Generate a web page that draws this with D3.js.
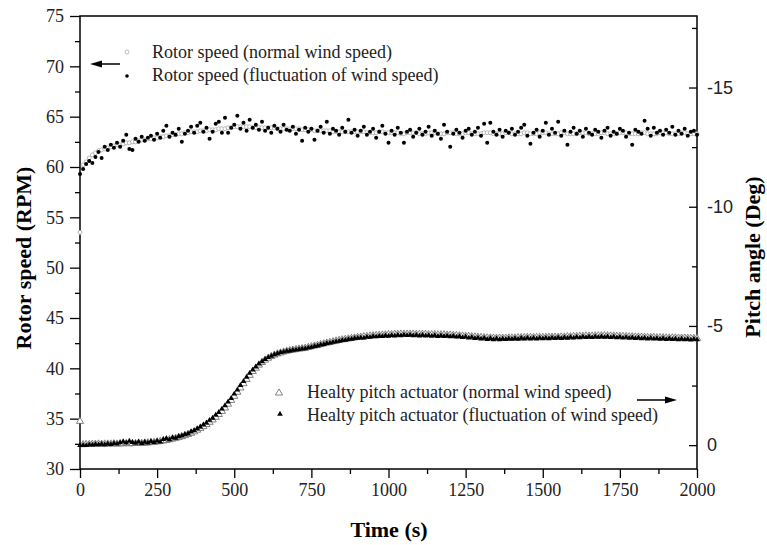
<!DOCTYPE html>
<html>
<head>
<meta charset="utf-8">
<script src="https://cdn.jsdelivr.net/npm/d3@7"></script>
<style>
    body { margin: 0; background: #fff; }
    #chart { width: 767px; height: 545px; }
    #chart svg { display: block; overflow: visible; }
    .serif { font-family: "Liberation Serif", "Times New Roman", serif; }
    .sans { font-family: "Liberation Sans", Arial, sans-serif; }
</style>
</head>
<body>
<div id="chart"></div>
<script>
// sampling step of all four recorded series (s)
const timeStep = 10;

const rotorNormal = [53.5,
    60.2, 60.5, 60.9, 61.2, 61.4, 61.6, 61.7, 61.8, 61.9, 62.0,
    62.1, 62.2, 62.2, 62.3, 62.4, 62.4, 62.5, 62.5, 62.6, 62.7,
    62.7, 62.8, 62.8, 62.9, 62.9, 63.0, 63.0, 63.1, 63.1, 63.2,
    63.2, 63.3, 63.3, 63.4, 63.4, 63.5, 63.5, 63.5, 63.6, 63.6,
    63.6, 63.7, 63.7, 63.7, 63.8, 63.8, 63.8, 63.9, 63.9, 64.0,
    64.0, 64.0, 64.0, 64.0, 64.0, 63.9, 63.9, 63.9, 63.9, 63.9,
    63.9, 63.9, 63.9, 63.8, 63.8, 63.8, 63.8, 63.8, 63.8, 63.8,
    63.8, 63.7, 63.7, 63.7, 63.7, 63.6, 63.6, 63.6, 63.6, 63.6,
    63.6, 63.5, 63.5, 63.5, 63.5, 63.5, 63.5, 63.5, 63.5, 63.5,
    63.5, 63.5, 63.4, 63.4, 63.4, 63.4, 63.5, 63.5, 63.4, 63.4,
    63.4, 63.4, 63.4, 63.3, 63.3, 63.4, 63.4, 63.4, 63.4, 63.3,
    63.3, 63.3, 63.4, 63.4, 63.4, 63.3, 63.3, 63.3, 63.4, 63.4,
    63.4, 63.3, 63.3, 63.3, 63.4, 63.4, 63.3, 63.3, 63.3, 63.3,
    63.4, 63.4, 63.4, 63.3, 63.3, 63.3, 63.3, 63.4, 63.4, 63.3,
    63.3, 63.3, 63.3, 63.4, 63.4, 63.3, 63.3, 63.3, 63.4, 63.4,
    63.4, 63.3, 63.3, 63.3, 63.3, 63.4, 63.4, 63.3, 63.3, 63.3,
    63.3, 63.4, 63.4, 63.4, 63.3, 63.3, 63.3, 63.3, 63.4, 63.4,
    63.3, 63.3, 63.3, 63.3, 63.4, 63.4, 63.4, 63.3, 63.3, 63.3,
    63.3, 63.4, 63.4, 63.3, 63.3, 63.3, 63.3, 63.4, 63.4, 63.4,
    63.3, 63.3, 63.3, 63.3, 63.4, 63.4, 63.3, 63.3, 63.3, 63.3];

const rotorFluct = [59.3,
    59.8, 60.3, 60.6, 60.4, 61.0, 61.5, 60.9, 62.0, 61.7, 62.2,
    61.9, 62.4, 62.0, 62.6, 63.2, 61.8, 61.7, 62.8, 62.5, 63.0,
    62.6, 62.9, 63.1, 62.7, 63.3, 62.9, 63.6, 64.1, 63.0, 63.4,
    63.2, 63.8, 62.5, 63.3, 63.6, 64.0, 63.4, 64.1, 64.4, 63.5,
    63.9, 62.8, 63.5, 64.3, 64.5, 63.4, 64.9, 63.4, 63.9, 64.2,
    65.1, 63.8, 64.4, 63.6, 64.7, 63.9, 64.2, 63.7, 64.5, 63.6,
    63.9, 63.4, 64.1, 63.8, 63.5, 64.2, 63.7, 63.6, 64.0, 63.3,
    63.7, 62.6, 63.9, 63.5, 63.8, 62.7, 63.6, 64.0, 63.4, 64.5,
    63.3, 63.8, 63.6, 63.2, 63.9, 63.5, 64.7, 63.4, 63.7, 63.1,
    63.6, 64.0, 63.2, 63.5, 63.8, 62.9, 63.5, 64.1, 63.3, 62.4,
    63.6, 63.2, 63.9, 63.4, 62.4, 63.5, 63.7, 63.0, 63.4, 63.8,
    63.2, 63.5, 64.0, 63.1, 63.6, 63.3, 62.8, 64.2, 63.5, 62.0,
    63.3, 63.7, 63.4, 62.9, 63.6, 63.8, 63.2, 63.5, 63.9, 63.1,
    64.3, 62.4, 64.4, 63.5, 63.2, 63.7, 63.0, 63.6, 63.4, 63.8,
    63.2, 63.5, 63.9, 64.2, 63.1, 62.3, 63.4, 63.7, 63.0, 63.6,
    64.4, 63.2, 63.8, 63.4, 64.5, 63.1, 63.6, 62.2, 63.5, 63.9,
    63.3, 63.6, 63.0, 63.8, 63.4, 63.2, 63.7, 63.5, 62.9, 63.6,
    63.9, 63.1, 63.5, 63.3, 63.8, 63.6, 63.0, 63.4, 62.2, 63.7,
    63.5, 63.3, 64.6, 63.8, 63.1, 63.9, 63.4, 63.6, 63.2, 63.7,
    63.4, 64.0, 63.2, 63.6, 63.3, 63.8, 63.1, 63.5, 63.6, 63.2];

const pitchNormal = [-1.0,
    -0.02, -0.03, -0.03, -0.04, -0.04, -0.05, -0.04, -0.05, -0.05, -0.05,
    -0.06, -0.05, -0.06, -0.06, -0.07, -0.06, -0.07, -0.07, -0.08, -0.08,
    -0.09, -0.10, -0.11, -0.12, -0.14, -0.16, -0.18, -0.20, -0.23, -0.26,
    -0.29, -0.32, -0.36, -0.40, -0.45, -0.50, -0.56, -0.63, -0.70, -0.78,
    -0.87, -0.96, -1.06, -1.17, -1.29, -1.42, -1.56, -1.72, -1.88, -2.05,
    -2.22, -2.40, -2.58, -2.76, -2.93, -3.09, -3.23, -3.36, -3.47, -3.57,
    -3.65, -3.72, -3.78, -3.83, -3.87, -3.91, -3.94, -3.97, -3.99, -4.01,
    -4.03, -4.05, -4.07, -4.10, -4.13, -4.16, -4.19, -4.22, -4.25, -4.28,
    -4.31, -4.34, -4.37, -4.40, -4.42, -4.44, -4.46, -4.48, -4.50, -4.52,
    -4.53, -4.55, -4.56, -4.58, -4.59, -4.60, -4.61, -4.62, -4.63, -4.64,
    -4.64, -4.65, -4.65, -4.66, -4.66, -4.66, -4.66, -4.66, -4.65, -4.65,
    -4.65, -4.65, -4.64, -4.64, -4.64, -4.63, -4.63, -4.63, -4.62, -4.62,
    -4.61, -4.60, -4.59, -4.58, -4.57, -4.56, -4.55, -4.54, -4.53, -4.52,
    -4.51, -4.50, -4.50, -4.49, -4.49, -4.49, -4.49, -4.49, -4.50, -4.50,
    -4.50, -4.51, -4.51, -4.51, -4.52, -4.52, -4.52, -4.52, -4.52, -4.52,
    -4.52, -4.52, -4.53, -4.53, -4.53, -4.54, -4.54, -4.55, -4.55, -4.56,
    -4.56, -4.57, -4.57, -4.58, -4.58, -4.58, -4.59, -4.59, -4.59, -4.59,
    -4.59, -4.58, -4.58, -4.57, -4.57, -4.56, -4.56, -4.55, -4.55, -4.54,
    -4.54, -4.53, -4.53, -4.52, -4.52, -4.52, -4.51, -4.51, -4.51, -4.50,
    -4.50, -4.50, -4.50, -4.49, -4.49, -4.49, -4.49, -4.48, -4.48, -4.48];

const pitchFluct = [-0.03,
    -0.04, -0.03, -0.06, -0.05, -0.08, -0.06, -0.09, -0.07, -0.10, -0.08,
    -0.12, -0.10, -0.15, -0.19, -0.14, -0.21, -0.16, -0.13, -0.18, -0.12,
    -0.17, -0.14, -0.20, -0.16, -0.22, -0.18, -0.29, -0.33, -0.27, -0.36,
    -0.34, -0.41, -0.44, -0.50, -0.53, -0.61, -0.66, -0.74, -0.81, -0.90,
    -0.98, -1.09, -1.18, -1.31, -1.42, -1.56, -1.70, -1.86, -2.01, -2.19,
    -2.36, -2.55, -2.72, -2.90, -3.06, -3.20, -3.33, -3.45, -3.55, -3.64,
    -3.72, -3.78, -3.84, -3.88, -3.93, -3.95, -3.99, -4.00, -4.03, -4.04,
    -4.06, -4.08, -4.09, -4.13, -4.15, -4.19, -4.21, -4.25, -4.27, -4.31,
    -4.33, -4.36, -4.39, -4.41, -4.44, -4.45, -4.48, -4.49, -4.52, -4.53,
    -4.55, -4.54, -4.58, -4.57, -4.61, -4.59, -4.62, -4.61, -4.64, -4.62,
    -4.65, -4.63, -4.66, -4.64, -4.67, -4.65, -4.67, -4.64, -4.66, -4.63,
    -4.66, -4.63, -4.65, -4.62, -4.65, -4.61, -4.64, -4.61, -4.63, -4.60,
    -4.62, -4.58, -4.61, -4.56, -4.59, -4.54, -4.57, -4.52, -4.55, -4.50,
    -4.53, -4.48, -4.52, -4.47, -4.51, -4.47, -4.50, -4.48, -4.51, -4.49,
    -4.52, -4.49, -4.53, -4.50, -4.54, -4.50, -4.53, -4.50, -4.54, -4.51,
    -4.54, -4.51, -4.55, -4.52, -4.56, -4.52, -4.56, -4.53, -4.57, -4.54,
    -4.58, -4.55, -4.59, -4.56, -4.60, -4.56, -4.60, -4.57, -4.60, -4.57,
    -4.60, -4.56, -4.59, -4.55, -4.58, -4.54, -4.57, -4.53, -4.56, -4.52,
    -4.55, -4.51, -4.54, -4.50, -4.53, -4.50, -4.52, -4.49, -4.52, -4.48,
    -4.51, -4.48, -4.50, -4.47, -4.50, -4.47, -4.49, -4.46, -4.49, -4.47];

const timeTicks = [0, 250, 500, 750, 1000, 1250, 1500, 1750, 2000];
const rotorTicks = [30, 35, 40, 45, 50, 55, 60, 65, 70, 75];
const pitchTicks = [0, -5, -10, -15];

const rotorLegend = ["Rotor speed (normal wind speed)", "Rotor speed (fluctuation of wind speed)"];
const pitchLegend = ["Healty pitch actuator (normal wind speed)", "Healty pitch actuator (fluctuation of wind speed)"];

const toPoints = (arr) => arr.map((v, i) => ({t: i * timeStep, v: v}));

const width = 767, height = 545;
const margin = {top: 16, right: 70, bottom: 76, left: 80};
const innerWidth = width - margin.left - margin.right,
    innerHeight = height - margin.top - margin.bottom;

const svg = d3.select("#chart")
    .append("svg")
    .attr("width", width)
    .attr("height", height);

const g = svg.append("g")
    .attr("transform", "translate(" + margin.left + "," + margin.top + ")");

const x = d3.scaleLinear().domain([0, 2000]).range([0, innerWidth]);
const yRotor = d3.scaleLinear().domain([30, 75]).range([innerHeight, 0]);
const yPitch = d3.scaleLinear().domain([1, -18]).range([innerHeight, 0]);

// ---- axes ----
const styleAxis = function (sel) {
    sel.attr("font-size", 18).attr("font-family", null);
    sel.select(".domain").remove();
    sel.selectAll("line").attr("stroke", "#000").attr("stroke-width", 1.3);
    sel.selectAll("text").attr("fill", "#222");
};
const noLabels = function (sel) {
    sel.selectAll("text").remove();
};
const plain = d => String(d);

g.append("g")
    .attr("class", "serif")
    .call(d3.axisLeft(yRotor).tickValues(rotorTicks).tickSize(10).tickPadding(6).tickFormat(plain))
    .call(styleAxis);
g.append("g")
    .call(d3.axisLeft(yRotor).tickValues(rotorTicks.slice(1).map(d => d - 2.5)).tickSize(5))
    .call(styleAxis)
    .call(noLabels);

g.append("g")
    .attr("class", "serif")
    .attr("transform", "translate(0," + innerHeight + ")")
    .call(d3.axisBottom(x).tickValues(timeTicks).tickSize(9).tickPadding(5).tickFormat(plain))
    .call(styleAxis);
g.append("g")
    .attr("transform", "translate(0," + innerHeight + ")")
    .call(d3.axisBottom(x).tickValues(timeTicks.slice(1).map(d => d - 125)).tickSize(5))
    .call(styleAxis)
    .call(noLabels);

g.append("g")
    .attr("class", "sans")
    .attr("transform", "translate(" + innerWidth + ",0)")
    .call(d3.axisRight(yPitch).tickValues(pitchTicks).tickSize(-8).tickPadding(10).tickFormat(plain))
    .call(styleAxis);
g.append("g")
    .attr("transform", "translate(" + innerWidth + ",0)")
    .call(d3.axisRight(yPitch).tickValues(pitchTicks.map(d => d - 2.5)).tickSize(-5))
    .call(styleAxis)
    .call(noLabels);

// frame: left, bottom, right and top lines
g.append("rect")
    .attr("width", innerWidth)
    .attr("height", innerHeight)
    .attr("fill", "none")
    .attr("stroke", "#000")
    .attr("stroke-width", 1.5);

// ---- marks ----
const triangle = d3.symbol().type(d3.symbolTriangle);

g.append("g").selectAll("path")
    .data(toPoints(pitchNormal))
    .enter().append("path")
    .attr("d", triangle.size(22)())
    .attr("transform", d => "translate(" + x(d.t) + "," + yPitch(d.v) + ")")
    .attr("fill", "#fff")
    .attr("stroke", "#666")
    .attr("stroke-width", 0.8);

g.append("g").selectAll("path")
    .data(toPoints(pitchFluct))
    .enter().append("path")
    .attr("d", triangle.size(14)())
    .attr("transform", d => "translate(" + x(d.t) + "," + (yPitch(d.v) + 1) + ")")
    .attr("fill", "#000");

g.append("g").selectAll("circle")
    .data(toPoints(rotorNormal))
    .enter().append("circle")
    .attr("cx", d => x(d.t))
    .attr("cy", d => yRotor(d.v))
    .attr("r", 2)
    .attr("fill", "#fff")
    .attr("stroke", "#aaa")
    .attr("stroke-width", 0.8);

g.append("g").selectAll("circle")
    .data(toPoints(rotorFluct))
    .enter().append("circle")
    .attr("cx", d => x(d.t))
    .attr("cy", d => yRotor(d.v))
    .attr("r", 2)
    .attr("fill", "#000");

// ---- legends ----
const legendText = function (lx, ly, text) {
    svg.append("text")
        .attr("class", "serif")
        .attr("x", lx)
        .attr("y", ly)
        .attr("font-size", 18)
        .attr("fill", "#222")
        .text(text);
};

svg.append("circle").attr("cx", 127).attr("cy", 52).attr("r", 2)
    .attr("fill", "#fff").attr("stroke", "#aaa").attr("stroke-width", 0.8);
legendText(152, 58, rotorLegend[0]);
svg.append("circle").attr("cx", 127).attr("cy", 76).attr("r", 1.8).attr("fill", "#000");
legendText(152, 81, rotorLegend[1]);

svg.append("path").attr("d", triangle.size(22)())
    .attr("transform", "translate(279,393)")
    .attr("fill", "#fff").attr("stroke", "#666").attr("stroke-width", 0.8);
legendText(307, 398, pitchLegend[0]);
svg.append("path").attr("d", triangle.size(14)())
    .attr("transform", "translate(280,414)")
    .attr("fill", "#000");
legendText(307, 421, pitchLegend[1]);

// arrows pointing to each series' axis
const arrow = function (x1, x2, ay) {
    const dir = x2 > x1 ? 1 : -1;
    svg.append("line")
        .attr("x1", x1).attr("x2", x2 - dir * 8)
        .attr("y1", ay).attr("y2", ay)
        .attr("stroke", "#000").attr("stroke-width", 1.5);
    svg.append("path")
        .attr("d", "M" + x2 + "," + ay + "L" + (x2 - dir * 12) + "," + (ay - 3.5) +
            "L" + (x2 - dir * 12) + "," + (ay + 3.5) + "Z")
        .attr("fill", "#000");
};
arrow(120, 90, 64);
arrow(637, 677, 400);

// ---- axis titles ----
const title = function (tr, text) {
    svg.append("text")
        .attr("class", "serif")
        .attr("transform", tr)
        .attr("text-anchor", "middle")
        .attr("font-size", 22)
        .attr("font-weight", "bold")
        .text(text);
};
title("translate(31,258)rotate(-90)", "Rotor speed (RPM)");
title("translate(760,257)rotate(-90)", "Pitch angle (Deg)");
title("translate(389,537)", "Time (s)");
</script>
</body>
</html>
